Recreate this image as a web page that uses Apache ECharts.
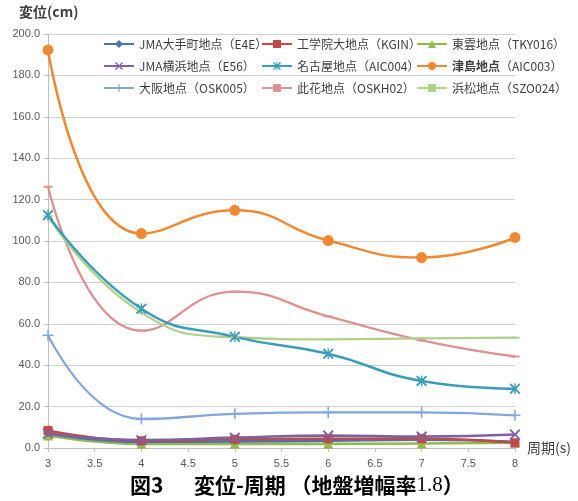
<!DOCTYPE html>
<html>
<head>
<meta charset="utf-8">
<script src="https://cdn.jsdelivr.net/npm/echarts@6/dist/echarts.min.js"></script>
<style>
  html, body { margin: 0; padding: 0; background: #fff; }
  #chart { width: 578px; height: 501px; }
</style>
</head>
<body>
<div id="chart"></div>
<script>
// Periods (s)
const periods = [3, 4, 5, 6, 7, 8];

// Displacement (cm) per observation site
const e4e    = [7.0, 3.0, 3.2, 3.5, 4.0, 3.0];
const kgin   = [8.5, 3.5, 4.2, 4.5, 4.5, 2.5];
const tky016 = [6.0, 2.0, 2.0, 2.0, 2.2, 2.5];
const e56    = [7.0, 3.8, 5.0, 6.0, 5.5, 6.5];
const aic004 = [112.5, 67.3, 53.7, 45.5, 32.4, 28.6];
const aic003 = [192.3, 103.6, 114.8, 100.2, 92.0, 101.7];
const osk005 = [54.5, 14.0, 16.5, 17.2, 17.2, 15.8];
const oskh02 = [126.2, 56.7, 75.5, 63.6, 52.0, 44.2];
const szo024 = [112.0, 65.4, 53.5, 52.5, 53.0, 53.3];

const names = [
  'JMA大手町地点（E4E）', '工学院大地点（KGIN）', '東雲地点（TKY016）',
  'JMA横浜地点（E56）', '名古屋地点（AIC004）', '津島地点（AIC003）',
  '大阪地点（OSK005）', '此花地点（OSKH02）', '浜松地点（SZO024）'
];

const symX = 'path://M0,1.2L1.2,0L5,3.8L8.8,0L10,1.2L6.2,5L10,8.8L8.8,10L5,6.2L1.2,10L0,8.8L3.8,5Z';
const symStar = 'path://M0,1.2L1.2,0L5,3.8L8.8,0L10,1.2L6.2,5L10,8.8L8.8,10L5,6.2L1.2,10L0,8.8L3.8,5Z M4.4,0h1.2v10h-1.2Z';
const symPlus = 'path://M4.3,0h1.4v4.3h4.3v1.4h-4.3v4.3h-1.4v-4.3h-4.3v-1.4h4.3Z';
const symDash = 'path://M0,0h10v2h-10Z';

function pairs(vals) { return periods.map((p, i) => [p, vals[i]]); }

function line(name, vals, color, symbol, size, width) {
  return {
    name, type: 'line', data: pairs(vals), smooth: 0.5,
    symbol, symbolSize: size, showSymbol: true,
    lineStyle: { color, width: width || 2.5 },
    itemStyle: { color },
    emphasis: { disabled: true }
  };
}

const series = [
  line(names[6], osk005, '#85A6D8', symPlus, 11, 2.3),
  line(names[7], oskh02, '#D99392', symDash, [9, 2], 2.3),
  line(names[8], szo024, '#B2CF8B', symDash, [9, 2], 2.3),
  line(names[4], aic004, '#3C9DB6', symStar, 11, 2.5),
  line(names[5], aic003, '#EE8A35', 'circle', 11, 2.5),
  line(names[2], tky016, '#94B84E', 'triangle', 10, 2.6),
  line(names[0], e4e, '#4A72B4', 'diamond', 7, 2.6),
  line(names[1], kgin, '#BE4B48', 'rect', 9, 2.6),
  line(names[3], e56, '#7E61A2', symX, 11, 2.6)
];

const legendText = {
  fontSize: 12, color: '#404040', fontFamily: 'Noto Sans CJK JP',
  rich: {
    b: { fontSize: 12, fontWeight: 'bold', color: '#404040', fontFamily: 'Noto Sans CJK JP' },
    n: { fontSize: 12, color: '#404040', fontFamily: 'Noto Sans CJK JP' }
  }
};
function legendCol(left, items) {
  return {
    orient: 'vertical', left, top: 33, itemGap: 10, itemWidth: 30, itemHeight: 10,
    data: items, textStyle: legendText, selectedMode: false,
    formatter: n => n === names[5] ? '{b|津島地点}{n|（AIC003）}' : n
  };
}

const chart = echarts.init(document.getElementById('chart'), null, { renderer: 'canvas' });
chart.setOption({
  backgroundColor: '#fff',
  animation: false,
  grid: { left: 48, right: 63, top: 34, bottom: 53 },
  legend: [
    legendCol(98, [names[0], names[3], names[6]]),
    legendCol(256, [names[1], names[4], names[7]]),
    legendCol(411, [names[2], names[5], names[8]])
  ],
  xAxis: {
    type: 'value', min: 3, max: 8, interval: 0.5,
    axisLine: { lineStyle: { color: '#BFBFBF', width: 1 } },
    axisTick: { show: true, length: 4, lineStyle: { color: '#BFBFBF' } },
    splitLine: { show: false },
    axisLabel: { color: '#595959', fontSize: 11, margin: 10, fontFamily: 'Liberation Sans' }
  },
  yAxis: {
    type: 'value', min: 0, max: 200, interval: 20,
    axisLine: { show: true, lineStyle: { color: '#BFBFBF', width: 1 } },
    axisTick: { show: true, length: 4, lineStyle: { color: '#BFBFBF' } },
    splitLine: { lineStyle: { color: '#D0D0D0', width: 1 } },
    axisLabel: {
      color: '#595959', fontSize: 11, margin: 8, fontFamily: 'Liberation Sans',
      formatter: v => v.toFixed(1)
    }
  },
  graphic: [
    {
      type: 'text', left: 19, top: 5,
      style: { text: '変位(cm)', font: 'bold 14px "Noto Sans CJK JP"', fill: '#404040' }
    },
    {
      type: 'text', left: 527, top: 441,
      style: { text: '周期(s)', font: '14px "Noto Sans CJK JP"', fill: '#404040' }
    },
    {
      type: 'text', left: 130, top: 475,
      style: {
        text: '{a|図3　  変位-周期 （地盤増幅率}{b|1.8}{a|）}',
        rich: {
          a: { fontSize: 21, fontWeight: 'bold', fontFamily: 'Noto Sans CJK JP', fill: '#000' },
          b: { fontSize: 21, fontFamily: 'Liberation Serif', fill: '#000' }
        }
      }
    }
  ],
  series
});
</script>
</body>
</html>
